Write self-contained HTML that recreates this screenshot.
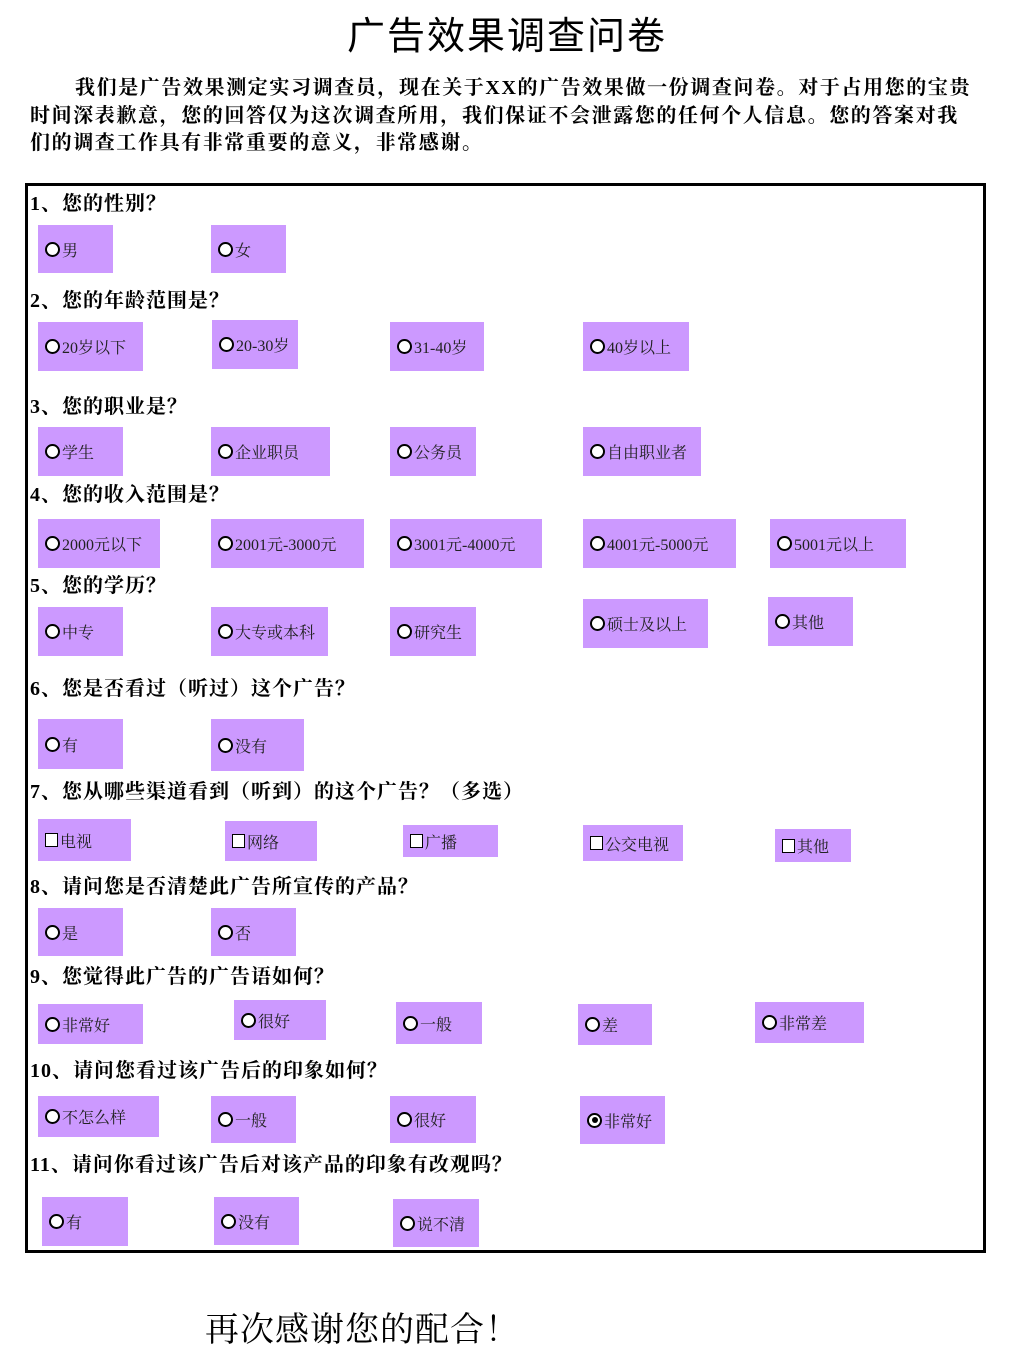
<!DOCTYPE html>
<html><head><meta charset="utf-8">
<style>
body{margin:0;width:1023px;height:1356px;background:#fff;position:relative;overflow:hidden;font-family:"Liberation Serif","Noto Serif CJK SC",serif;color:#000}
.t{position:absolute;left:347px;top:12px;font-family:"Liberation Sans","Noto Sans CJK SC",sans-serif;font-size:38px;letter-spacing:2px;white-space:nowrap;line-height:50px}
.i{position:absolute;font-size:20px;font-weight:bold;white-space:nowrap;letter-spacing:1.6px;line-height:26px}
.frame{position:absolute;left:25px;top:183px;width:955px;height:1064px;border:3px solid #000;border-top-width:3px}
.q{position:absolute;left:30px;font-size:20px;font-weight:bold;white-space:nowrap;line-height:26px;letter-spacing:1px}
.b{position:absolute;background:#cc99ff;font-size:16px;color:#222;white-space:nowrap;box-sizing:border-box;padding-left:7px;display:flex;align-items:center}
.b i{display:inline-block;width:11px;height:11px;border:2px solid #000;border-radius:50%;margin-right:2px;background:#fff;box-sizing:content-box}
.b i.c{border-radius:0;width:11px;height:12px;border-width:1.5px}
.b i.s{position:relative}
.b i.s:after{content:"";position:absolute;left:2.5px;top:2.5px;width:6px;height:6px;border-radius:50%;background:#000}
.end{position:absolute;left:205px;top:1308px;font-size:34px;white-space:nowrap;line-height:46px;letter-spacing:1px}
</style></head><body>
<div class="t">广告效果调查问卷</div>
<div class="i" style="left:75px;top:75px">我们是广告效果测定实习调查员，现在关于XX的广告效果做一份调查问卷。对于占用您的宝贵</div>
<div class="i" style="left:30px;top:103px">时间深表歉意，您的回答仅为这次调查所用，我们保证不会泄露您的任何个人信息。您的答案对我</div>
<div class="i" style="left:30px;top:130px">们的调查工作具有非常重要的意义，非常感谢。</div>
<div class="frame"></div>

<div class="q" style="top:191px">1、您的性别？</div>
<div class="b" style="left:38px;top:225px;width:75px;height:48px"><i></i>男</div>
<div class="b" style="left:211px;top:225px;width:75px;height:48px"><i></i>女</div>

<div class="q" style="top:288px">2、您的年龄范围是？</div>
<div class="b" style="left:38px;top:322px;width:105px;height:49px"><i></i>20岁以下</div>
<div class="b" style="left:212px;top:320px;width:86px;height:49px"><i></i>20-30岁</div>
<div class="b" style="left:390px;top:322px;width:94px;height:49px"><i></i>31-40岁</div>
<div class="b" style="left:583px;top:322px;width:106px;height:49px"><i></i>40岁以上</div>

<div class="q" style="top:394px">3、您的职业是？</div>
<div class="b" style="left:38px;top:427px;width:85px;height:49px"><i></i>学生</div>
<div class="b" style="left:211px;top:427px;width:119px;height:49px"><i></i>企业职员</div>
<div class="b" style="left:390px;top:427px;width:86px;height:49px"><i></i>公务员</div>
<div class="b" style="left:583px;top:427px;width:118px;height:49px"><i></i>自由职业者</div>

<div class="q" style="top:482px">4、您的收入范围是？</div>
<div class="b" style="left:38px;top:519px;width:122px;height:49px"><i></i>2000元以下</div>
<div class="b" style="left:211px;top:519px;width:153px;height:49px"><i></i>2001元-3000元</div>
<div class="b" style="left:390px;top:519px;width:152px;height:49px"><i></i>3001元-4000元</div>
<div class="b" style="left:583px;top:519px;width:153px;height:49px"><i></i>4001元-5000元</div>
<div class="b" style="left:770px;top:519px;width:136px;height:49px"><i></i>5001元以上</div>

<div class="q" style="top:573px">5、您的学历？</div>
<div class="b" style="left:38px;top:607px;width:85px;height:49px"><i></i>中专</div>
<div class="b" style="left:211px;top:607px;width:117px;height:49px"><i></i>大专或本科</div>
<div class="b" style="left:390px;top:607px;width:86px;height:49px"><i></i>研究生</div>
<div class="b" style="left:583px;top:599px;width:125px;height:49px"><i></i>硕士及以上</div>
<div class="b" style="left:768px;top:597px;width:85px;height:49px"><i></i>其他</div>

<div class="q" style="top:676px">6、您是否看过（听过）这个广告？</div>
<div class="b" style="left:38px;top:719px;width:85px;height:50px"><i></i>有</div>
<div class="b" style="left:211px;top:719px;width:93px;height:52px"><i></i>没有</div>

<div class="q" style="top:779px">7、您从哪些渠道看到（听到）的这个广告？（多选）</div>
<div class="b" style="left:38px;top:819px;width:93px;height:42px"><i class="c"></i>电视</div>
<div class="b" style="left:225px;top:821px;width:92px;height:40px"><i class="c"></i>网络</div>
<div class="b" style="left:403px;top:825px;width:95px;height:32px"><i class="c"></i>广播</div>
<div class="b" style="left:583px;top:825px;width:100px;height:36px"><i class="c"></i>公交电视</div>
<div class="b" style="left:775px;top:829px;width:76px;height:33px"><i class="c"></i>其他</div>

<div class="q" style="top:874px">8、请问您是否清楚此广告所宣传的产品？</div>
<div class="b" style="left:38px;top:908px;width:85px;height:48px"><i></i>是</div>
<div class="b" style="left:211px;top:908px;width:85px;height:48px"><i></i>否</div>

<div class="q" style="top:964px">9、您觉得此广告的广告语如何？</div>
<div class="b" style="left:38px;top:1004px;width:105px;height:40px"><i></i>非常好</div>
<div class="b" style="left:234px;top:1000px;width:92px;height:40px"><i></i>很好</div>
<div class="b" style="left:396px;top:1002px;width:86px;height:42px"><i></i>一般</div>
<div class="b" style="left:578px;top:1004px;width:74px;height:41px"><i></i>差</div>
<div class="b" style="left:755px;top:1002px;width:109px;height:41px"><i></i>非常差</div>

<div class="q" style="top:1058px">10、请问您看过该广告后的印象如何？</div>
<div class="b" style="left:38px;top:1096px;width:121px;height:41px"><i></i>不怎么样</div>
<div class="b" style="left:211px;top:1096px;width:85px;height:47px"><i></i>一般</div>
<div class="b" style="left:390px;top:1096px;width:86px;height:47px"><i></i>很好</div>
<div class="b" style="left:580px;top:1096px;width:85px;height:48px"><i class="s"></i>非常好</div>

<div class="q" style="top:1152px">11、请问你看过该广告后对该产品的印象有改观吗？</div>
<div class="b" style="left:42px;top:1197px;width:86px;height:49px"><i></i>有</div>
<div class="b" style="left:214px;top:1197px;width:85px;height:48px"><i></i>没有</div>
<div class="b" style="left:393px;top:1199px;width:86px;height:48px"><i></i>说不清</div>

<div class="end">再次感谢您的配合！</div>
</body></html>
